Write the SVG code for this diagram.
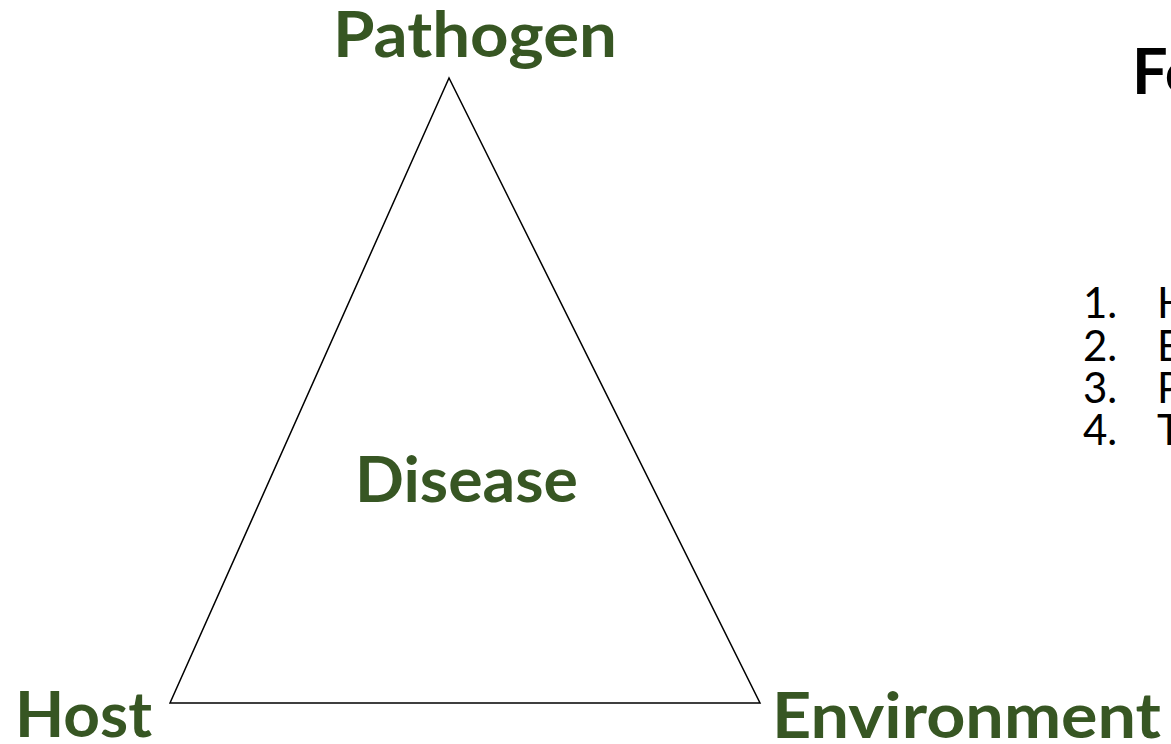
<svg xmlns="http://www.w3.org/2000/svg" width="1171" height="744" viewBox="0 0 1171 744">
<style>
.lbl{font-family:Lato,"Open Sans","Liberation Sans",sans-serif;font-weight:700;fill:#375623;font-size:63px}
.ttl{font-family:Lato,"Open Sans","Liberation Sans",sans-serif;font-weight:700;fill:#000;font-size:63px}
.lst{font-family:Lato,"Open Sans","Liberation Sans",sans-serif;font-weight:400;fill:#000;font-size:42px}
.edge{fill:none;stroke:#000;stroke-width:1.5;stroke-linejoin:miter}
</style>
<rect width="1171" height="744" fill="#fff"/>
<g id="connectors">
<path class="edge" d="M449,78 L170,703 L760,703 Z"/>
</g>
<g id="pathogen"><text class="lbl" x="333" y="57" textLength="284" lengthAdjust="spacingAndGlyphs">Pathogen</text></g>
<g id="host"><text class="lbl" x="15" y="737" textLength="137" lengthAdjust="spacingAndGlyphs">Host</text></g>
<g id="environment"><text class="lbl" x="772" y="738" textLength="389" lengthAdjust="spacingAndGlyphs">Environment</text></g>
<g id="disease"><text class="lbl" x="355" y="502" textLength="223" lengthAdjust="spacingAndGlyphs">Disease</text></g>
<g id="title"><text class="ttl" x="1132" y="94">Fo</text></g>
<g id="list">
<text class="lst" x="1083" y="318">1.</text><text class="lst" x="1157" y="318">H</text>
<text class="lst" x="1083" y="361">2.</text><text class="lst" x="1157" y="361">E</text>
<text class="lst" x="1083" y="403">3.</text><text class="lst" x="1157" y="403">P</text>
<text class="lst" x="1083" y="445">4.</text><text class="lst" x="1157" y="445">T</text>
</g>
</svg>
